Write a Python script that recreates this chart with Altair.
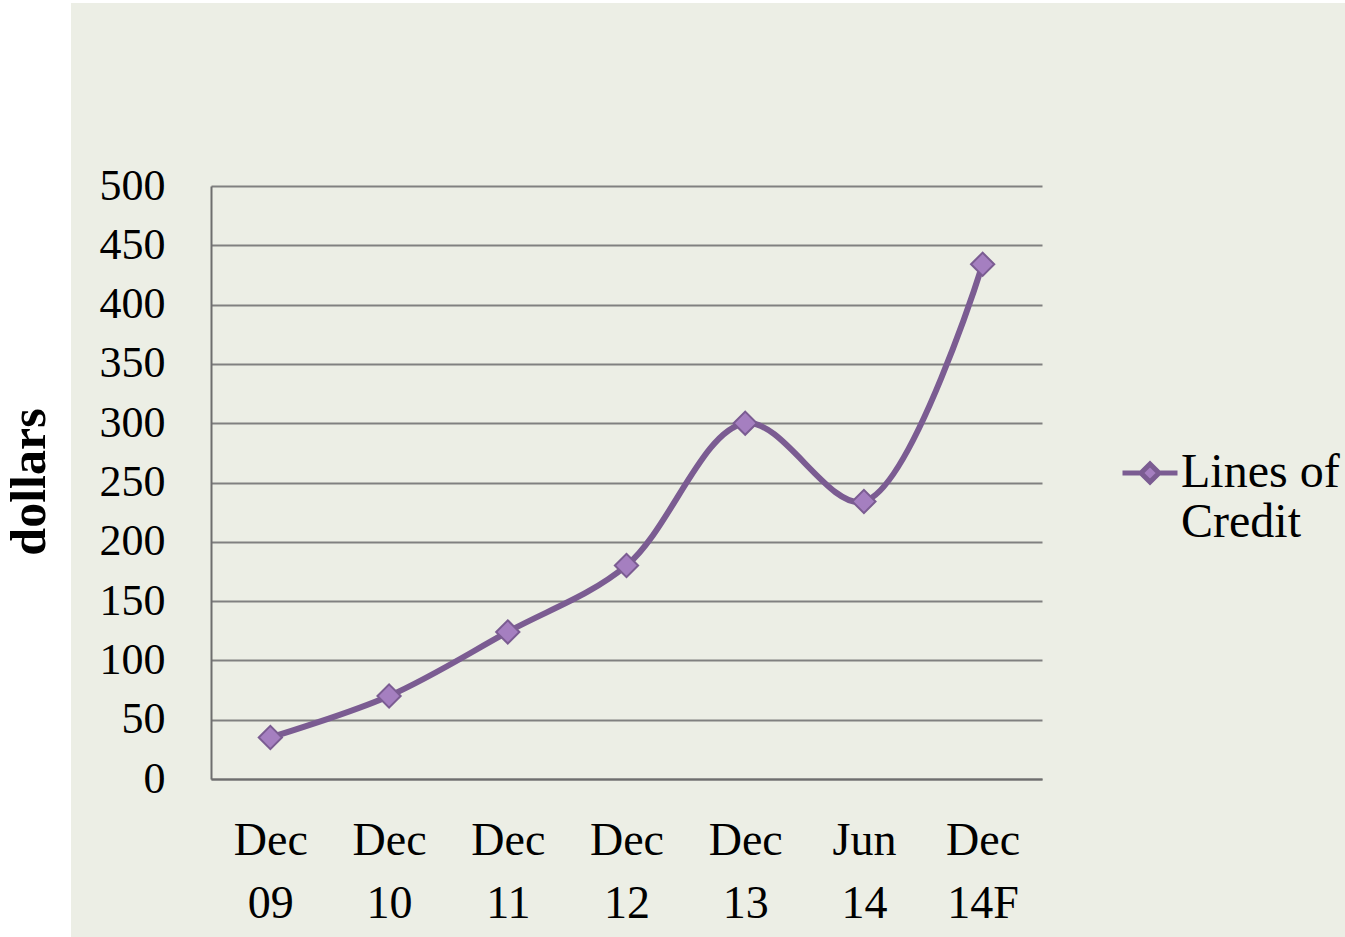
import altair as alt
import pandas as pd

# Credit line balances by reporting period
periods = ["Dec 09", "Dec 10", "Dec 11", "Dec 12", "Dec 13", "Jun 14", "Dec 14F"]
balances = [35, 70, 124, 180, 300, 234, 434]
series_name = ["Lines of Credit"] * len(periods)

df = pd.DataFrame({"period": periods, "dollars": balances, "series": series_name})

FONT = "Liberation Serif"
BG = "#ECEEE5"
LINE = "#7B5C92"
FILL = "#A57FC0"

W, H = 831, 593
PAD_L, PAD_T = 211, 186

x_enc = alt.X(
    "period:N",
    sort=None,
    title=None,
    axis=alt.Axis(
        labelAngle=0,
        labelExpr="split(datum.label, ' ')",
        labelFont=FONT,
        labelFontSize=46,
        labelColor="black",
        labelLineHeight=63,
        labelPadding=39,
        ticks=False,
        domainColor="#6E6E6E",
        domainWidth=2,
        grid=False,
    ),
)
y_enc = alt.Y(
    "dollars:Q",
    title=None,
    scale=alt.Scale(domain=[0, 500], nice=False),
    axis=alt.Axis(
        values=list(range(0, 501, 50)),
        labelFont=FONT,
        labelFontSize=44,
        labelColor="black",
        labelPadding=46,
        ticks=False,
        domainColor="#6E6E6E",
        domainWidth=2,
        gridColor="#808080",
        gridWidth=2,
    ),
)

base = alt.Chart(df)

# white margin strip on the left edge, behind the axis title
margin = base.mark_rect(color="white").encode(
    x=alt.value(-PAD_L), x2=alt.value(71 - PAD_L),
    y=alt.value(-PAD_T), y2=alt.value(937 - PAD_T),
)
top_strip = base.mark_rect(color="white").encode(
    x=alt.value(-PAD_L), x2=alt.value(1345 - PAD_L),
    y=alt.value(-PAD_T), y2=alt.value(3 - PAD_T),
)

y_title = alt.Chart(pd.DataFrame({"t": ["dollars"]})).mark_text(
    font=FONT, fontSize=50, fontWeight="bold", angle=270, color="black",
    align="center", baseline="middle",
).encode(text="t:N", x=alt.value(30 - PAD_L), y=alt.value(482 - PAD_T))

line = base.mark_line(interpolate="catmull-rom", strokeWidth=6).encode(
    x=x_enc,
    y=y_enc,
    color=alt.Color(
        "series:N",
        scale=alt.Scale(range=[LINE]),
        legend=alt.Legend(
            title=None,
            orient="none",
            legendX=1120 - PAD_L,
            legendY=443 - PAD_T,
            symbolType="M-1,0H-0.33M0.33,0H1M0,-0.33L0.33,0L0,0.33L-0.33,0Z",
            symbolSize=3025,
            symbolStrokeWidth=5,
            symbolStrokeColor=LINE,
            symbolFillColor=FILL,
            labelFont=FONT,
            labelFontSize=48,
            labelColor="black",
            labelLimit=400,
            labelOffset=1,
            labelBaseline="middle",
            labelExpr="['Lines of', 'Credit']",
        ),
    ),
)

points = base.mark_point(
    shape="diamond", filled=True, fill=FILL, stroke=LINE, strokeWidth=2,
    size=540, opacity=1,
).encode(x=x_enc, y=y_enc)

chart = (
    alt.layer(margin, top_strip, y_title, line, points)
    .properties(
        width=W,
        height=H,
        background=BG,
        padding={"left": PAD_L, "top": PAD_T, "right": 1345 - PAD_L - W, "bottom": 937 - PAD_T - H},
        autosize=alt.AutoSizeParams(type="none"),
    )
    .configure_view(stroke=None)
)

chart.save("out.html", embed_options={"renderer": "svg", "actions": False})
